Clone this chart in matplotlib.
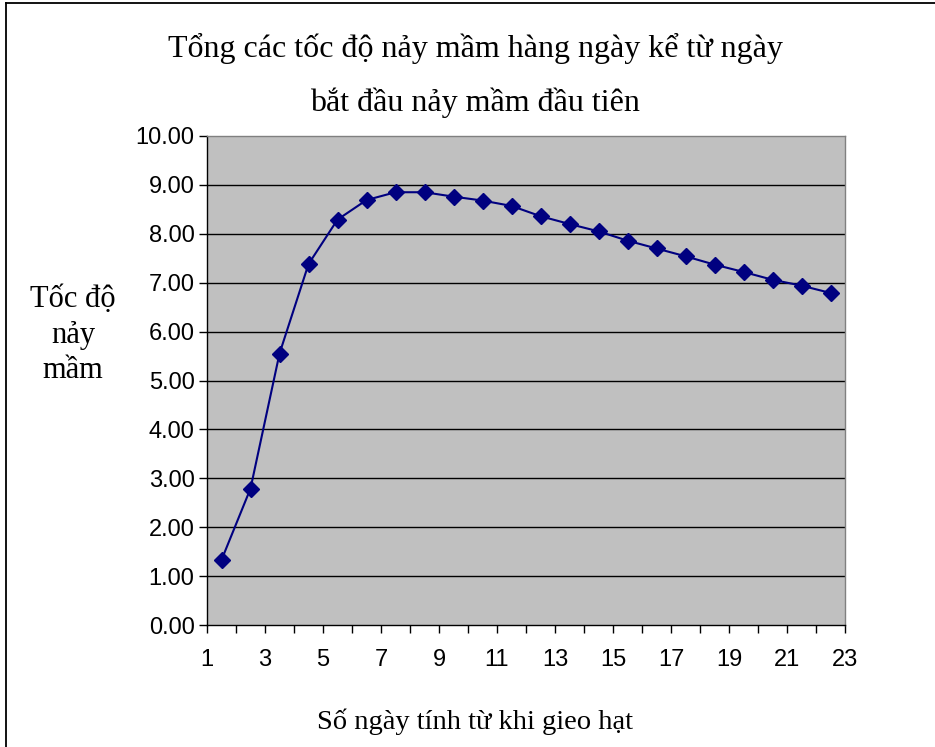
import numpy as np
import matplotlib.pyplot as plt
from matplotlib.lines import Line2D

# values, one per day (plotted between category ticks)
days = np.arange(1, 23)
speed = [1.33, 2.79, 5.55, 7.38, 8.29, 8.69, 8.85, 8.85, 8.76, 8.68,
         8.57, 8.36, 8.20, 8.05, 7.86, 7.70, 7.54, 7.37, 7.22, 7.06,
         6.94, 6.79]
y_ticks = np.arange(0, 11, 1)
x_ticks = np.arange(1, 24)

title_1 = "Tổng các tốc độ nảy mầm hàng ngày kể từ ngày"
title_2 = "bắt đầu nảy mầm đầu tiên"
y_label = "Tốc độ\nnảy\nmầm"
x_label = "Số ngày tính từ khi gieo hạt"

serif = ['Liberation Serif', 'DejaVu Serif']
sans = ['Liberation Sans', 'DejaVu Sans']

fig = plt.figure(figsize=(9.35, 7.47), dpi=100)

# chart frame: only the left and top edges are inside the picture
x0, y0 = 6 / 935, 1 - 3 / 747
fig.add_artist(Line2D([x0, x0], [0, y0], transform=fig.transFigure,
                      color='black', linewidth=1.3))
fig.add_artist(Line2D([x0, 1], [y0, y0], transform=fig.transFigure,
                      color='black', linewidth=1.3))

ax = fig.add_axes([207 / 935, 1 - 625 / 747, 638 / 935, 489 / 747])
ax.set_facecolor('#C0C0C0')

# series sits in the middle of each category slot
ax.plot(days + 0.5, speed, color='#000080', linewidth=1.5,
        marker='D', markersize=8.5, zorder=3, clip_on=False)

ax.set_xlim(1, 23)
ax.set_ylim(0, 10)
ax.set_yticks(y_ticks)
ax.set_yticklabels(['%.2f' % v for v in y_ticks], family=sans, fontsize=17)
ax.set_xticks(x_ticks)
ax.set_xticklabels([str(v) if v % 2 == 1 else '' for v in x_ticks],
                   family=sans, fontsize=17)
ax.tick_params(axis='y', direction='out', length=6, width=1, pad=3)
ax.tick_params(axis='x', direction='out', length=6, width=1, pad=11.5)

for v in y_ticks[1:-1]:
    ax.axhline(v, color='black', linewidth=1, zorder=1)

ax.spines['left'].set_color('black')
ax.spines['bottom'].set_color('black')
ax.spines['top'].set_color('#808080')
ax.spines['right'].set_color('#808080')
for s in ax.spines.values():
    s.set_linewidth(1)

fig.text(0.508, 1 - 48 / 747, title_1, ha='center', va='center',
         family=serif, fontsize=23)
fig.text(0.508, 1 - 103 / 747, title_2, ha='center', va='center',
         family=serif, fontsize=23)
fig.text(73 / 935, 1 - 335 / 747, y_label, ha='center', va='center',
         family=serif, fontsize=22, linespacing=1.3)
fig.text(0.508, 1 - 722 / 747, x_label, ha='center', va='center',
         family=serif, fontsize=20.5)

fig.savefig('out.png', dpi=100)
